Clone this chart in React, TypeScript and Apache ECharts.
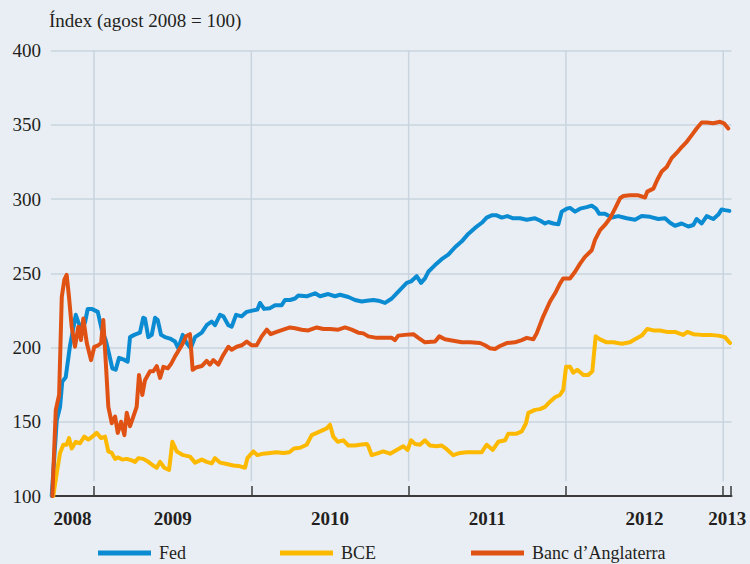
import { useEffect, useRef } from "react";
import * as echarts from "echarts";

const TITLE = "Índex (agost 2008 = 100)";
const SERIES_NAMES = ["Fed", "BCE", "Banc d’Anglaterra"];
const COLORS = ["#0b8bd2", "#fcb900", "#e05214"];

const Y_MIN = 100;
const Y_MAX = 400;
const Y_STEP = 50;

const X_MIN = 2008.7265;
const X_MAX = 2013.0526;
const YEAR_LABELS = ["2008", "2009", "2010", "2011", "2012", "2013"];
const YEAR_LABEL_POS = [2008.863, 2009.5, 2010.5, 2011.5, 2012.5, 2013.025];
const YEAR_TICKS = [2009, 2010, 2011, 2012, 2013, 2013.047];
const GRID_YEARS = [2009, 2010, 2011, 2012, 2013];
const GRID_V_FROM = 110;

const FED: [number, number][] = [
  [2008.731, 100], [2008.763, 151], [2008.784, 160], [2008.798, 177], [2008.82, 180], [2008.847, 201],
  [2008.884, 222], [2008.9, 217], [2008.922, 212], [2008.943, 217], [2008.96, 226], [2008.985, 226],
  [2009.024, 224], [2009.049, 212], [2009.074, 205], [2009.095, 196], [2009.116, 186], [2009.138, 185],
  [2009.159, 193], [2009.186, 192], [2009.214, 190.5], [2009.229, 207], [2009.256, 208.5], [2009.292, 210],
  [2009.313, 220], [2009.324, 219.5], [2009.345, 207], [2009.367, 208.5], [2009.388, 220], [2009.405, 218.5],
  [2009.426, 208.5], [2009.451, 207], [2009.483, 206], [2009.515, 204], [2009.536, 199.5], [2009.564, 208.5],
  [2009.589, 203], [2009.615, 199.5], [2009.642, 207], [2009.685, 210], [2009.716, 215], [2009.748, 217.5],
  [2009.769, 215], [2009.801, 222], [2009.822, 221], [2009.854, 215], [2009.875, 214], [2009.903, 222],
  [2009.939, 221], [2009.971, 224], [2010.013, 225], [2010.038, 225.5], [2010.055, 230], [2010.081, 226],
  [2010.119, 226.5], [2010.151, 228.5], [2010.193, 228.5], [2010.214, 232], [2010.246, 232], [2010.278, 233],
  [2010.299, 235], [2010.352, 234.5], [2010.405, 236.5], [2010.437, 234.5], [2010.489, 236], [2010.532, 234.5],
  [2010.564, 235.5], [2010.617, 234], [2010.659, 232], [2010.702, 231], [2010.734, 231.5], [2010.776, 232],
  [2010.807, 231.5], [2010.85, 230], [2010.893, 233], [2010.924, 236.5], [2010.956, 240], [2010.988, 243.5],
  [2011.015, 244.5], [2011.051, 248], [2011.079, 243.5], [2011.104, 246.5], [2011.125, 251], [2011.168, 255.5],
  [2011.21, 259.5], [2011.252, 262.5], [2011.295, 267.5], [2011.338, 271.5], [2011.379, 276.5], [2011.422, 280.5],
  [2011.465, 284], [2011.496, 287.5], [2011.528, 289], [2011.56, 289], [2011.592, 287.5], [2011.627, 288.5],
  [2011.665, 287], [2011.708, 287], [2011.751, 286], [2011.803, 287], [2011.835, 285.5], [2011.867, 283.5],
  [2011.888, 284.5], [2011.92, 283.5], [2011.952, 283], [2011.973, 291.5], [2012.005, 293.5], [2012.026, 294],
  [2012.058, 291.5], [2012.09, 293.5], [2012.132, 294.5], [2012.164, 295.5], [2012.191, 293.5], [2012.212, 290],
  [2012.248, 290], [2012.291, 287.5], [2012.333, 288.5], [2012.386, 287], [2012.439, 286], [2012.482, 288.5],
  [2012.535, 288], [2012.587, 286.5], [2012.63, 287], [2012.662, 284], [2012.693, 282], [2012.736, 283.5],
  [2012.778, 281.5], [2012.81, 282.5], [2012.831, 286.5], [2012.863, 283.5], [2012.895, 288.5], [2012.937, 286.5],
  [2012.969, 289.5], [2012.99, 293], [2013.011, 292.5], [2013.039, 292],
];

const BCE: [number, number][] = [
  [2008.741, 100], [2008.763, 115.5], [2008.784, 129], [2008.805, 134.5], [2008.826, 134.5], [2008.841, 139],
  [2008.858, 132], [2008.884, 136.5], [2008.911, 135.5], [2008.938, 140], [2008.964, 138], [2008.989, 140],
  [2009.017, 142.5], [2009.045, 139], [2009.07, 140], [2009.091, 130], [2009.113, 129], [2009.134, 125],
  [2009.154, 126], [2009.18, 124.5], [2009.208, 125], [2009.24, 124], [2009.261, 123], [2009.282, 125.5],
  [2009.313, 125], [2009.345, 123], [2009.377, 120.5], [2009.399, 119], [2009.42, 123], [2009.447, 119],
  [2009.477, 117.5], [2009.498, 136.5], [2009.526, 130], [2009.568, 127.5], [2009.61, 126.5], [2009.642, 122.5],
  [2009.685, 124.5], [2009.716, 123], [2009.748, 122], [2009.769, 125.5], [2009.801, 122.5], [2009.844, 121.5],
  [2009.886, 120.5], [2009.928, 120], [2009.96, 119], [2009.975, 125.5], [2010.013, 130], [2010.038, 127.5],
  [2010.076, 128.5], [2010.119, 129], [2010.161, 129.5], [2010.203, 129], [2010.242, 129.5], [2010.271, 132],
  [2010.31, 132.5], [2010.352, 134.5], [2010.384, 141], [2010.416, 142.5], [2010.448, 144], [2010.479, 145.5],
  [2010.5, 148], [2010.521, 140], [2010.549, 136.5], [2010.585, 137.5], [2010.617, 134], [2010.659, 134],
  [2010.691, 134.5], [2010.734, 135], [2010.744, 133.5], [2010.765, 127.5], [2010.797, 128.5], [2010.839, 130],
  [2010.882, 128.5], [2010.924, 131], [2010.966, 133.5], [2010.994, 131], [2011.015, 137.5], [2011.041, 135],
  [2011.072, 134.5], [2011.104, 137.5], [2011.136, 134], [2011.179, 133.5], [2011.21, 134], [2011.242, 131.5],
  [2011.284, 127.5], [2011.327, 129], [2011.369, 129.5], [2011.422, 129.5], [2011.465, 129.5], [2011.496, 134.5],
  [2011.535, 131], [2011.57, 136.5], [2011.613, 137.5], [2011.634, 142], [2011.687, 142], [2011.719, 143.5],
  [2011.746, 149], [2011.761, 156], [2011.803, 158], [2011.835, 158.5], [2011.867, 160], [2011.899, 163.5],
  [2011.931, 166.5], [2011.962, 168], [2011.983, 171.5], [2012.001, 187], [2012.026, 187], [2012.047, 183],
  [2012.072, 185], [2012.111, 181.5], [2012.142, 181.5], [2012.168, 184], [2012.189, 207.5], [2012.217, 205.5],
  [2012.259, 203.5], [2012.301, 203.5], [2012.355, 202.5], [2012.407, 203.5], [2012.439, 205.5], [2012.482, 208],
  [2012.517, 212.5], [2012.556, 211.5], [2012.598, 211.5], [2012.641, 210.5], [2012.693, 210.5], [2012.746, 208.5],
  [2012.772, 210.5], [2012.81, 209], [2012.863, 208.5], [2012.916, 208.5], [2012.969, 208], [2013.011, 207],
  [2013.043, 203],
];

const BANC: [number, number][] = [
  [2008.735, 100], [2008.757, 158], [2008.778, 168], [2008.795, 234], [2008.811, 245.5], [2008.826, 249],
  [2008.841, 234], [2008.858, 214], [2008.879, 200.5], [2008.9, 214], [2008.917, 205], [2008.932, 219.5],
  [2008.954, 203], [2008.981, 191.5], [2009.002, 200.5], [2009.027, 201.5], [2009.045, 203], [2009.059, 218.5],
  [2009.074, 191.5], [2009.091, 160], [2009.113, 149], [2009.134, 153.5], [2009.151, 142.5], [2009.172, 150],
  [2009.193, 141], [2009.208, 156], [2009.229, 147], [2009.25, 153.5], [2009.271, 160], [2009.286, 181.5],
  [2009.307, 168], [2009.324, 178], [2009.356, 184], [2009.377, 184], [2009.399, 187.5], [2009.42, 179.5],
  [2009.441, 187], [2009.469, 186], [2009.49, 189], [2009.515, 194], [2009.558, 201.5], [2009.585, 207.5],
  [2009.61, 209], [2009.627, 185], [2009.648, 186.5], [2009.685, 187.5], [2009.716, 191], [2009.737, 188.5],
  [2009.758, 191.5], [2009.79, 188.5], [2009.822, 195], [2009.854, 200.5], [2009.875, 198.5], [2009.907, 200.5],
  [2009.939, 201.5], [2009.971, 204], [2010.003, 201.5], [2010.034, 201.5], [2010.066, 207.5], [2010.098, 212],
  [2010.123, 209], [2010.161, 210.5], [2010.203, 212], [2010.246, 213.5], [2010.278, 213], [2010.32, 212],
  [2010.362, 211.5], [2010.416, 213.5], [2010.458, 212.5], [2010.5, 212.5], [2010.553, 212], [2010.596, 213.5],
  [2010.638, 212], [2010.68, 210], [2010.712, 209.5], [2010.744, 207.5], [2010.797, 206.5], [2010.85, 206.5],
  [2010.893, 206.5], [2010.913, 205], [2010.934, 208], [2010.977, 208.5], [2011.03, 209], [2011.062, 206.5],
  [2011.104, 203.5], [2011.168, 204], [2011.195, 207.5], [2011.231, 205.5], [2011.284, 204.5], [2011.338, 203.5],
  [2011.39, 203.5], [2011.454, 203], [2011.486, 201.5], [2011.517, 199.5], [2011.549, 199], [2011.581, 201],
  [2011.624, 203], [2011.676, 203.5], [2011.719, 205], [2011.751, 206.5], [2011.793, 205.5], [2011.814, 209.5],
  [2011.856, 221], [2011.899, 231], [2011.931, 236.5], [2011.962, 243], [2011.983, 246.5], [2012.026, 246.5],
  [2012.058, 251], [2012.09, 256.5], [2012.121, 261], [2012.164, 265.5], [2012.185, 272.5], [2012.217, 279],
  [2012.248, 282.5], [2012.28, 287], [2012.312, 293.5], [2012.344, 300.5], [2012.365, 302], [2012.407, 302.5],
  [2012.46, 302.5], [2012.503, 301], [2012.517, 305], [2012.556, 307], [2012.581, 313], [2012.609, 318.5],
  [2012.641, 321.5], [2012.672, 327.5], [2012.704, 331], [2012.736, 335], [2012.768, 338.5], [2012.8, 343],
  [2012.831, 347.5], [2012.863, 351.5], [2012.895, 351.5], [2012.937, 351], [2012.98, 352], [2013.005, 351],
  [2013.032, 347.5],
];

const SERIES_DATA = [FED, BCE, BANC];

const FONT = "Liberation Serif";
const TEXT_COLOR = "#231f20";
const GRID_COLOR = "#c9d4de";
const BG = "#e9eef4";

export default function App() {
  const ref = useRef<HTMLDivElement>(null);

  useEffect(() => {
    if (!ref.current) return;
    const chart = echarts.init(ref.current, undefined, { renderer: "svg" });

    const gridLineData: (number | null)[][] = [];
    GRID_YEARS.forEach((y) => {
      gridLineData.push([y, GRID_V_FROM], [y, Y_MAX], [y + 0.01, null]);
    });

    const legendLeft = [98, 280, 471];

    chart.setOption({
      animation: false,
      backgroundColor: BG,
      title: {
        text: TITLE,
        left: 49,
        top: 11,
        padding: 0,
        textStyle: { fontFamily: FONT, fontSize: 19, fontWeight: "normal", color: TEXT_COLOR },
      },
      legend: SERIES_NAMES.map((n, i) => ({
        data: [n],
        left: legendLeft[i],
        top: 544,
        padding: 0,
        icon: "rect",
        itemWidth: 53,
        itemHeight: 5,
        selectedMode: false,
        textStyle: { fontFamily: FONT, fontSize: 18, color: TEXT_COLOR, padding: [0, 0, 0, 3] },
      })),
      grid: { left: 51, right: 18.5, top: 50.5, bottom: 68 },
      xAxis: {
        type: "value",
        min: X_MIN,
        max: X_MAX,
        splitLine: { show: false },
        axisLine: { show: true, lineStyle: { color: "#3a3a3a", width: 2 } },
        axisTick: {
          show: true,
          inside: true,
          length: 10,
          customValues: YEAR_TICKS,
          lineStyle: { color: "#3a3a3a", width: 1.5 },
        },
        axisLabel: {
          show: true,
          customValues: YEAR_LABEL_POS,
          margin: 13,
          fontFamily: FONT,
          fontSize: 19,
          fontWeight: "bold",
          color: TEXT_COLOR,
          formatter: (v: number) => {
            const i = YEAR_LABEL_POS.findIndex((p) => Math.abs(p - v) < 1e-6);
            return i >= 0 ? YEAR_LABELS[i] : "";
          },
        },
      },
      yAxis: {
        type: "value",
        min: Y_MIN,
        max: Y_MAX,
        interval: Y_STEP,
        axisLine: { show: false },
        axisTick: { show: false },
        axisLabel: { margin: 10, fontFamily: FONT, fontSize: 19, color: TEXT_COLOR },
        splitLine: { show: true, lineStyle: { color: GRID_COLOR, width: 1.5 } },
      },
      series: [
        {
          type: "line",
          name: "_grid",
          data: gridLineData,
          z: 1,
          silent: true,
          showSymbol: false,
          connectNulls: false,
          lineStyle: { color: GRID_COLOR, width: 1.5 },
          itemStyle: { color: GRID_COLOR },
        },
        ...SERIES_NAMES.map((n, i) => ({
          type: "line",
          name: n,
          data: SERIES_DATA[i],
          z: 2 + i,
          showSymbol: false,
          symbol: "none",
          color: COLORS[i],
          lineStyle: { color: COLORS[i], width: 4, join: "round", cap: "round" },
          itemStyle: { color: COLORS[i] },
        })),
      ],
    });

    return () => chart.dispose();
  }, []);

  return <div ref={ref} style={{ position: "fixed", left: 0, top: 0, width: 750, height: 564 }} />;
}
